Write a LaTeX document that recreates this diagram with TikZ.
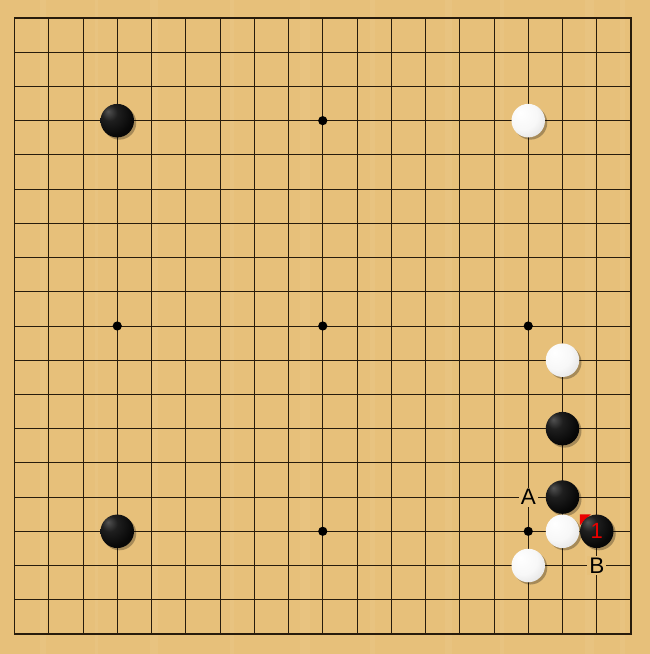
\documentclass[tikz,border=0pt]{standalone}
\usepackage{fontspec}
\setmainfont{Liberation Sans}
\definecolor{board}{RGB}{231,192,122}
\definecolor{gridc}{RGB}{40,28,12}
\definecolor{markred}{RGB}{235,0,0}
\pgfdeclareradialshading{bstone}{\pgfpoint{-14bp}{14bp}}{color(0bp)=(black!68); color(12bp)=(black!88); color(30bp)=(black!97); color(70bp)=(black)}
\pgfdeclareradialshading{wstone}{\pgfpoint{-12bp}{12bp}}{color(0bp)=(white); color(22bp)=(white!97!black); color(42bp)=(white!86!black); color(70bp)=(white!70!black)}
\tikzset{
  gridline/.style={draw=gridc, line width=0.8pt},
  borderline/.style={draw=gridc, line width=1.5pt},
  stoneshadow/.style={fill=black, opacity=0.28},
  blackstone/.style={circle, minimum size=33.5pt, inner sep=0pt, shading=bstone},
  whitestone/.style={circle, minimum size=33.5pt, inner sep=0pt, shading=wstone},
  boardlabel/.style={fill=board, inner sep=1pt, minimum size=19pt, font=\fontsize{22.5}{22.5}\selectfont, text=black},
  movenum/.style={font=\fontsize{22}{22}\selectfont, text=markred},
}
\begin{document}
\begin{tikzpicture}[x=1pt,y=-1pt]
\useasboundingbox (0,0) rectangle (650,654);
\fill[board] (0,0) rectangle (650,654);
% subtle grain
\foreach \gx/\gw in {40/6,95/3,150/8,230/4,300/10,370/5,445/7,500/4,585/9,620/5}{
  \fill[white, opacity=0.05] (\gx,0) rectangle ({\gx+\gw},654);
}
\def\xo{14.5}\def\yo{18}\def\sx{34.25}\def\sy{34.22}
% grid
\foreach \i in {1,...,17}{
  \draw[gridline] ({\xo+\i*\sx},\yo) -- ({\xo+\i*\sx},{\yo+18*\sy});
  \draw[gridline] (\xo,{\yo+\i*\sy}) -- ({\xo+18*\sx},{\yo+\i*\sy});
}
\draw[borderline] (\xo,\yo) rectangle ({\xo+18*\sx},{\yo+18*\sy});
% star points
\foreach \i in {3,9,15}{
  \foreach \j in {3,9,15}{
    \fill[black] ({\xo+\i*\sx},{\yo+\j*\sy}) circle (4.6pt);
  }
}
% shadows
\foreach \i/\j in {3/3,15/3,16/10,16/12,16/14,16/15,17/15,15/16,3/15}{
  \fill[stoneshadow] ({\xo+\i*\sx+2.2},{\yo+\j*\sy+2.2}) circle (16.8pt);
}
% red marker (last move)
\fill[markred] ({\xo+17*\sx-17},{\yo+15*\sy-17}) -- ++(11,0) -- ++(-11,11) -- cycle;
% stones
\node[blackstone] (b1) at ({\xo+3*\sx},{\yo+3*\sy}) {};
\node[whitestone] (w1) at ({\xo+15*\sx},{\yo+3*\sy}) {};
\node[whitestone] (w2) at ({\xo+16*\sx},{\yo+10*\sy}) {};
\node[blackstone] (b2) at ({\xo+16*\sx},{\yo+12*\sy}) {};
\node[blackstone] (b3) at ({\xo+16*\sx},{\yo+14*\sy}) {};
\node[whitestone] (w3) at ({\xo+16*\sx},{\yo+15*\sy}) {};
\node[blackstone] (b4) at ({\xo+17*\sx},{\yo+15*\sy}) {};
\node[whitestone] (w4) at ({\xo+15*\sx},{\yo+16*\sy}) {};
\node[blackstone] (b5) at ({\xo+3*\sx},{\yo+15*\sy}) {};
\node[movenum] (n1) at (b4) {1};
% labels
\node[boardlabel] (la) at ({\xo+15*\sx},{\yo+14*\sy}) {A};
\node[boardlabel] (lb) at ({\xo+17*\sx},{\yo+16*\sy}) {B};
\end{tikzpicture}
\end{document}
